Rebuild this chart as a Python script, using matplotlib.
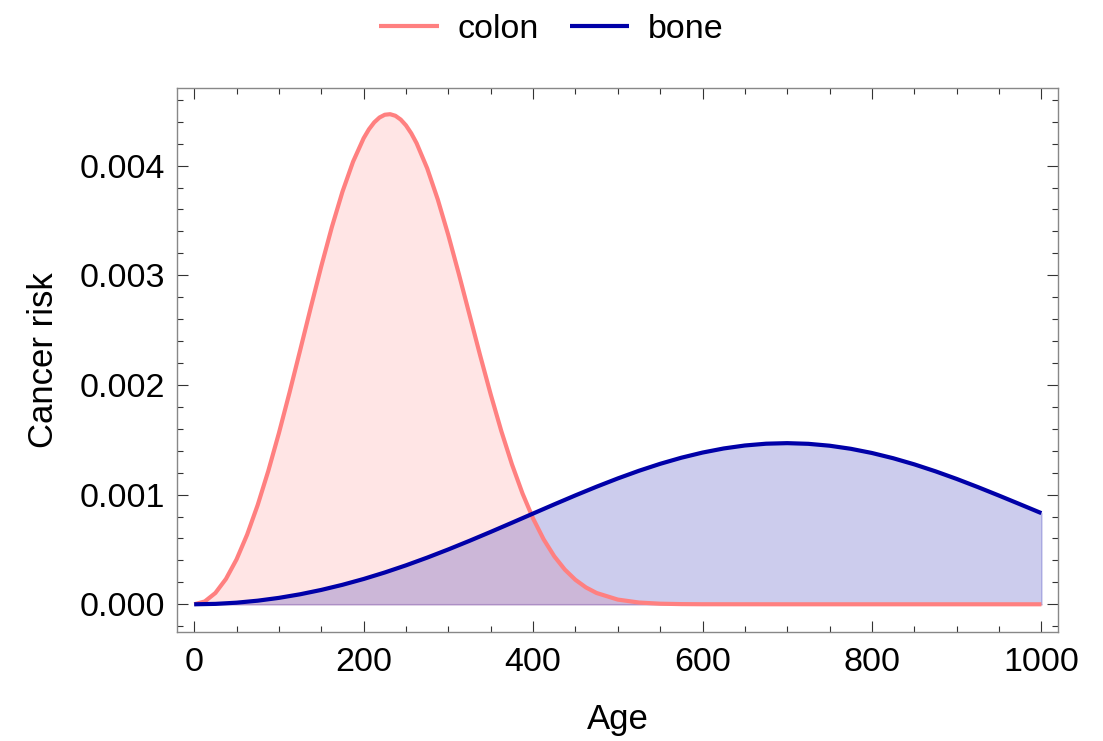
import numpy as np
import matplotlib.pyplot as plt
from matplotlib.ticker import MultipleLocator

plt.rcParams['font.family'] = ['Liberation Sans', 'DejaVu Sans']

# valores
colon_age = [0, 12.5, 25, 37.5, 50, 62.5, 75, 87.5, 100, 112.5, 125, 137.5, 150,
             162.5, 175, 187.5, 200, 206.25, 212.5, 218.75, 225, 231.25, 237.5,
             243.75, 250, 256.25, 262.5, 275, 287.5,
             300, 312.5, 325, 337.5, 350, 362.5, 375, 387.5, 400, 412.5, 425,
             437.5, 450, 462.5, 475, 500, 525, 550, 575, 600, 700, 800, 900, 1000]
colon_risk = [0, 0.0000258, 0.0001030, 0.0002313, 0.0004095, 0.0006356, 0.0009064,
              0.0012170, 0.0015610, 0.0019301, 0.0023145, 0.0027027, 0.0030822,
              0.0034397, 0.0037616, 0.0040353, 0.0042495, 0.0043310, 0.0043943,
              0.0044387, 0.0044637, 0.0044688, 0.0044543, 0.0044199, 0.0043665,
              0.0042941, 0.0042044, 0.0039758, 0.0036916, 0.0033645,
              0.0030087, 0.0026390, 0.0022696, 0.0019135, 0.0015795, 0.0012775,
              0.0010110, 0.0007825, 0.0005920, 0.0004379, 0.0003162, 0.0002229,
              0.0001533, 0.0001028, 0.0000428, 0.0000160, 0.0000053, 0.0000016,
              0.0000004, 0, 0, 0, 0]

bone_age = list(range(0, 1001, 25))
bone_risk = [0, 0.0000037, 0.0000146, 0.0000329, 0.0000585, 0.0000912, 0.0001310,
             0.0001776, 0.0002307, 0.0002901, 0.0003552, 0.0004255, 0.0005003,
             0.0005788, 0.0006601, 0.0007433, 0.0008273, 0.0009110, 0.0009931,
             0.0010723, 0.0011475, 0.0012174, 0.0012807, 0.0013364, 0.0013834,
             0.0014208, 0.0014479, 0.0014642, 0.0014693, 0.0014631, 0.0014459,
             0.0014178, 0.0013795, 0.0013319, 0.0012758, 0.0012124, 0.0011430,
             0.0010686, 0.0009910, 0.0009114, 0.0008311]

colon_color = "#FF8080"
bone_color = "#0000A8"

fig = plt.figure(figsize=(11.03, 7.41), dpi=100)
ax = fig.add_axes([0.1607, 0.1475, 0.7988, 0.7341])

# relleno hasta el eje, con borde fino como en la referencia
ax.fill_between(colon_age, colon_risk, 0, facecolor=colon_color, alpha=0.2,
                edgecolor=colon_color, linewidth=1.2)
ax.fill_between(bone_age, bone_risk, 0, facecolor=bone_color, alpha=0.2,
                edgecolor=bone_color, linewidth=1.2)
ax.plot(colon_age, colon_risk, color=colon_color, lw=3.0, label="colon",
        solid_capstyle='butt', solid_joinstyle='round')
ax.plot(bone_age, bone_risk, color=bone_color, lw=3.0, label="bone",
        solid_capstyle='butt', solid_joinstyle='round')

ax.set_xlim(-20, 1020)
ax.set_ylim(-0.00025, 0.00471)

ax.xaxis.set_major_locator(MultipleLocator(200))
ax.xaxis.set_minor_locator(MultipleLocator(50))
ax.yaxis.set_major_locator(MultipleLocator(0.001))
ax.yaxis.set_minor_locator(MultipleLocator(0.0002))
ax.yaxis.set_major_formatter(lambda v, p: f"{v:.3f}")

ax.tick_params(which='both', direction='in', top=True, right=True,
               color='#333333', width=0.8, labelsize=24.5)
ax.tick_params(which='major', length=8, pad=9)
ax.tick_params(which='minor', length=4.3)
ax.tick_params(axis='x', which='major', pad=11)

for s in ax.spines.values():
    s.set_color('#888888')
    s.set_linewidth(1.0)

ax.set_xlabel("Age", fontsize=25, labelpad=18)
ax.set_ylabel("Cancer risk", fontsize=25, labelpad=14)

fig.legend(loc='upper center', bbox_to_anchor=(0.5, 1.022), ncol=2, frameon=False,
           fontsize=24.5, handlelength=1.75, handletextpad=0.55, columnspacing=0.9)

plt.savefig("out.png", dpi=100)
